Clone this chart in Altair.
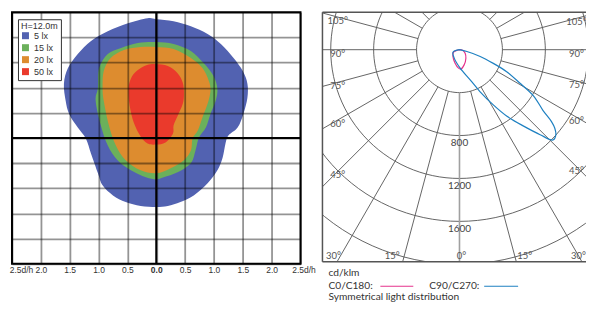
import math
import altair as alt
import pandas as pd

# ---------------- left panel: isolux contours (d/h units) ----------------
levels = ["5 lx", "15 lx", "20 lx", "50 lx"]
level_colors = ["#5262b1", "#6bb05b", "#dd8c2f", "#ea3a2c"]

blue_x = [0.00, 0.30, 0.60, 0.89, 1.12, 1.34, 1.50, 1.58, 1.58, 1.51, 1.41, 1.25, 1.20, 1.15, 1.06, 0.89, 0.65, 0.42, 0.20, 0.00,
          -0.27, -0.53, -0.75, -0.93, -1.01, -1.13, -1.22, -1.36, -1.51, -1.57, -1.60, -1.53, -1.36, -1.13, -0.84, -0.49, -0.15]
blue_y = [2.36, 2.32, 2.22, 2.07, 1.87, 1.59, 1.33, 1.08, 0.80, 0.48, 0.21, 0.05, -0.11, -0.39, -0.64, -0.90, -1.14, -1.27, -1.35, -1.37,
          -1.35, -1.27, -1.14, -0.94, -0.70, -0.31, -0.01, 0.21, 0.48, 0.74, 1.08, 1.39, 1.67, 1.93, 2.12, 2.28, 2.38]
green_x = [0.00, 0.30, 0.60, 0.82, 0.99, 1.06, 1.03, 0.94, 0.86, 0.74, 0.68, 0.60, 0.37, 0.13, 0.00,
           -0.18, -0.44, -0.67, -0.84, -0.96, -1.05, -1.01, -0.99, -0.84, -0.61, -0.32]
green_y = [1.91, 1.87, 1.73, 1.49, 1.24, 0.98, 0.74, 0.48, 0.21, 0.01, -0.25, -0.50, -0.68, -0.78, -0.82,
           -0.78, -0.64, -0.44, -0.15, 0.25, 0.74, 1.00, 1.39, 1.67, 1.79, 1.89]
orange_x = [0.00, 0.30, 0.60, 0.80, 0.91, 0.94, 0.89, 0.80, 0.72, 0.63, 0.60, 0.48, 0.25, 0.00,
            -0.27, -0.53, -0.70, -0.82, -0.91, -0.93, -0.91, -0.79, -0.56, -0.27]
orange_y = [1.81, 1.77, 1.59, 1.39, 1.14, 0.94, 0.68, 0.41, 0.15, -0.01, -0.25, -0.44, -0.60, -0.70,
            -0.64, -0.44, -0.15, 0.25, 0.74, 1.00, 1.33, 1.59, 1.75, 1.81]
red_x = [0.00, 0.20, 0.37, 0.46, 0.48, 0.46, 0.37, 0.30, 0.29, 0.16, 0.00,
         -0.15, -0.27, -0.39, -0.46, -0.48, -0.44, -0.34, -0.16]
red_y = [1.47, 1.43, 1.29, 1.10, 0.88, 0.68, 0.44, 0.25, 0.09, -0.09, -0.13,
         -0.11, 0.03, 0.31, 0.64, 0.98, 1.18, 1.33, 1.45]

dh_ticks = [-2.5, -2.0, -1.5, -1.0, -0.5, 0.0, 0.5, 1.0, 1.5, 2.0, 2.5]
dh_labels = ["2.5d/h", "2.0", "1.5", "1.0", "0.5", "0.0", "0.5", "1.0", "1.5", "2.0", "2.5d/h"]
legend_title = "H=12.0m"

# ---------------- right panel: polar light distribution (cd/klm) ----------------
pink_angle = [90, 77, 58, 37, 17, 4, -3, -18, -44, -67, -90]
pink_cd = [0, 32, 62, 99, 148, 181, 172, 132, 88, 60, 0]
blue_angle = [90, 76, 72, 68, 65, 61, 58, 54, 52, 50.5, 48.5, 46, 43.5, 40, 35.5, 31.5, 26, 19.5, 2, -32, -69, -90]
blue_cd = [0, 71, 203, 340, 485, 645, 815, 961, 1088, 1151, 1199, 1212, 1092, 930, 762, 603, 434, 298, 172, 93, 65, 0]

rings = [400, 800, 1200, 1600, 2000]
ring_labels = [800, 1200, 1600]
spoke_angles = list(range(-180, 180, 15))
side_label_angles = [45, 60, 75, 90, 105]
bottom_label_angles = [-30, -15, 0, 15, 30]

unit_text = "cd/klm"
c0_text = "C0/C180:"
c90_text = "C90/C270:"
sym_text = "Symmetrical light distribution"
pink = "#e5338c"
blue = "#1e80c1"


def polar(angle_deg, r):
    a = math.radians(angle_deg)
    return r * math.sin(a), -r * math.cos(a)


# ---------- build left ----------
FONT_L = "Liberation Sans"
xsc = alt.Scale(domain=[-2.5, 2.5], nice=False, zero=False)
ysc = alt.Scale(domain=[-2.5, 2.5], nice=False, zero=False)

label_expr = " : ".join(f"datum.value == {v} ? '{t}'" for v, t in zip(dh_ticks, dh_labels)) + " : ''"

x_axis = alt.Axis(
    values=dh_ticks, labelExpr=label_expr, title=None, ticks=False, domain=False,
    grid=True, gridColor="black", gridOpacity=0.42, gridWidth=1.8, zindex=1,
    labelFont=FONT_L, labelFontSize=8.5, labelColor="#333", labelPadding=2,
    labelOverlap=False, labelBound=False, labelFlush=False,
    labelFontWeight={"condition": {"test": "datum.value == 0", "value": "bold"}, "value": "normal"},
    labelOffset={"condition": [{"test": "datum.value == -2.5", "value": 9},
                               {"test": "datum.value == 2.5", "value": 3}], "value": 0},
)
y_axis = alt.Axis(values=dh_ticks, labels=False, title=None, ticks=False, domain=False,
                  grid=True, gridColor="black", gridOpacity=0.42, gridWidth=1.8, zindex=1)

legend = alt.Legend(
    title=legend_title, orient="none", legendX=6, legendY=7, direction="vertical", zindex=3,
    symbolType="square", symbolSize=49, symbolStrokeWidth=0, symbolOffset=0,
    labelFont=FONT_L, labelFontSize=9, labelColor="#333", labelOffset=4,
    titleFont=FONT_L, titleFontSize=9, titleFontWeight="normal", titleColor="#333", titlePadding=0,
    padding=3, strokeColor="#333", fillColor="white", rowPadding=2,
)

contour_sets = [(blue_x, blue_y), (green_x, green_y), (orange_x, orange_y), (red_x, red_y)]
contour_layers = []
for lvl, (cx, cy) in zip(levels, contour_sets):
    df = pd.DataFrame({"level": lvl, "i": range(len(cx)), "x": cx, "y": cy})
    contour_layers.append(
        alt.Chart(df).mark_line(filled=True, interpolate="cardinal-closed", strokeWidth=0).encode(
            x=alt.X("x:Q", scale=xsc, axis=x_axis),
            y=alt.Y("y:Q", scale=ysc, axis=y_axis),
            color=alt.Color("level:N", scale=alt.Scale(domain=levels, range=level_colors), legend=legend),
            order="i:Q",
        )
    )

zero_df = pd.DataFrame({"v": [0.0]})
vline = alt.Chart(zero_df).mark_rule(color="black", strokeWidth=2).encode(x=alt.X("v:Q", scale=xsc, axis=x_axis))
hline = alt.Chart(zero_df).mark_rule(color="black", strokeWidth=2).encode(y=alt.Y("v:Q", scale=ysc, axis=y_axis))

left = alt.layer(*contour_layers, vline, hline).properties(
    width=289, height=252, view=alt.ViewBackground(stroke="black", strokeWidth=2)
)

# ---------- build right ----------
FONT_R = "Lato"
RW, RH = 264, 250
rsx = alt.Scale(domain=[-1277, 1179], nice=False, zero=False)
rsy = alt.Scale(domain=[-1977, 349], nice=False, zero=False)
RX = lambda f="x": alt.X(f"{f}:Q", scale=rsx, axis=None)
RY = lambda f="y": alt.Y(f"{f}:Q", scale=rsy, axis=None)

ring_rows = []
for r in rings:
    for k in range(0, 361, 3):
        x, y = polar(k, r)
        ring_rows.append({"r": r, "k": k, "x": x, "y": y})
ring_df = pd.DataFrame(ring_rows)
ring_layer = alt.Chart(ring_df).mark_line(color="#555", strokeWidth=0.9, clip=True).encode(
    x=RX(), y=RY(), detail="r:N", order="k:Q")

spoke_rows = []
for a in spoke_angles:
    x1, y1 = polar(a, rings[0])
    x2, y2 = polar(a, 3200)
    spoke_rows.append({"a": a, "x": x1, "y": y1, "x2": x2, "y2": y2})
spoke_df = pd.DataFrame(spoke_rows)
spoke_layer = alt.Chart(spoke_df).mark_rule(clip=True).encode(
    x=RX(), y=RY(), x2="x2:Q", y2="y2:Q",
    color=alt.condition(alt.datum.a == 0, alt.value("#a0a0a0"), alt.value("#555")),
    strokeWidth=alt.condition(alt.datum.a == 0, alt.value(1.6), alt.value(0.9)),
)


def curve_df(angles, cds):
    pts = [polar(a, c) for a, c in zip(angles, cds)]
    return pd.DataFrame({"i": range(len(pts)), "x": [p[0] for p in pts], "y": [p[1] for p in pts]})


pink_layer = alt.Chart(curve_df(pink_angle, pink_cd)).mark_line(
    color=pink, strokeWidth=1.2, interpolate="catmull-rom", clip=True).encode(x=RX(), y=RY(), order="i:Q")
blue_layer = alt.Chart(curve_df(blue_angle, blue_cd)).mark_line(
    color=blue, strokeWidth=1.2, interpolate="catmull-rom", clip=True).encode(x=RX(), y=RY(), order="i:Q")

txt_style = dict(font=FONT_R, fontSize=9.5, color="#555", baseline="middle", clip=True)

# side angle labels, placed on their spoke near the panel edge
side_rows = []
for a in side_label_angles:
    for X in (-1135, 1090):
        Y = -abs(X) * math.cos(math.radians(a)) / math.sin(math.radians(a))
        side_rows.append({"x": X, "y": Y, "t": f"{a}°"})
side_layer = alt.Chart(pd.DataFrame(side_rows)).mark_text(align="center", dy=4, **txt_style).encode(
    x=RX(), y=RY(), text="t:N")

# bottom angle labels, placed on their spoke near the bottom edge
ybot = -1921
bottom_shift = {-30: -7, -15: -12, 0: 2, 15: 10, 30: 0}
bottom_layers = []
for a in bottom_label_angles:
    bdf = pd.DataFrame({"x": [-ybot * math.tan(math.radians(a))], "y": [ybot], "t": [f"{abs(a)}°"]})
    bottom_layers.append(
        alt.Chart(bdf).mark_text(align="center", dx=bottom_shift[a], **txt_style).encode(x=RX(), y=RY(), text="t:N"))

rl_df = pd.DataFrame({"x": 0.0, "y": [-v for v in ring_labels], "t": [str(v) for v in ring_labels]})
rl_layer = alt.Chart(rl_df).mark_text(align="center", dy=7.5, font=FONT_R, fontSize=10, color="#444",
                                      baseline="middle").encode(x=RX(), y=RY(), text="t:N")

one = pd.DataFrame({"k": [0]})

# frame: left, top and bottom edges only (right edge runs off the picture)
frame_style = dict(color="#555", strokeWidth=1.5)
f_left = alt.Chart(one).mark_rule(**frame_style).encode(x=alt.value(0), y=alt.value(0), y2=alt.value(RH))
f_top = alt.Chart(one).mark_rule(**frame_style).encode(x=alt.value(0), x2=alt.value(RW), y=alt.value(0))
f_bot = alt.Chart(one).mark_rule(**frame_style).encode(x=alt.value(0), x2=alt.value(RW), y=alt.value(RH))

# annotation block below the polar plot
ann_style = dict(font=FONT_R, fontSize=10.2, color="#333", baseline="middle", align="left")
t1 = alt.Chart(one).mark_text(**ann_style).encode(x=alt.value(6), y=alt.value(261), text=alt.value(unit_text))
t2 = alt.Chart(one).mark_text(**ann_style).encode(x=alt.value(6), y=alt.value(274.5), text=alt.value(c0_text))
t3 = alt.Chart(one).mark_text(**ann_style).encode(x=alt.value(107), y=alt.value(274.5), text=alt.value(c90_text))
t4 = alt.Chart(one).mark_text(**ann_style).encode(x=alt.value(6), y=alt.value(285.6), text=alt.value(sym_text))
l1 = alt.Chart(one).mark_rule(color=pink, strokeWidth=1.2).encode(x=alt.value(58), x2=alt.value(91), y=alt.value(274.5))
l2 = alt.Chart(one).mark_rule(color=blue, strokeWidth=1.2).encode(x=alt.value(162), x2=alt.value(196), y=alt.value(274.5))

right = alt.layer(
    ring_layer, spoke_layer, pink_layer, blue_layer, side_layer, *bottom_layers, rl_layer,
    f_left, f_top, f_bot, t1, t2, t3, t4, l1, l2
).properties(width=RW, height=RH, view=alt.ViewBackground(stroke=None))

chart = alt.hconcat(left, right, spacing=22, bounds="flush").properties(
    padding={"left": 0, "top": 2, "right": 0, "bottom": 0}, background="white"
).resolve_scale(x="independent", y="independent", color="independent")

chart.save("out.html", embed_options={"renderer": "svg", "actions": False})
